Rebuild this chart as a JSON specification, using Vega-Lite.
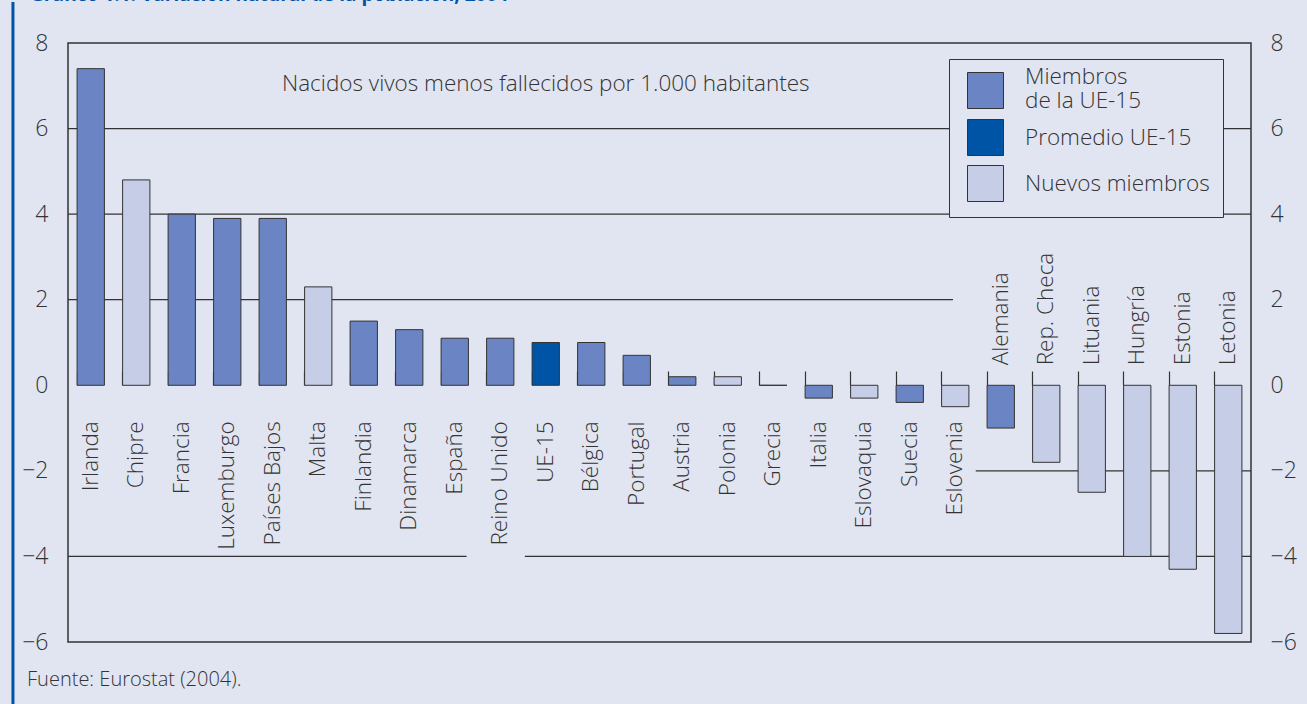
{
  "$schema": "https://vega.github.io/schema/vega-lite/v6.json",
  "width": 1183,
  "height": 599,
  "autosize": "none",
  "padding": {"left": 68, "top": 43, "right": 56, "bottom": 62},
  "background": "#e1e5f1",
  "config": {
    "view": {"stroke": "#333333", "strokeWidth": 1.5},
    "font": "Open Sans",
    "axis": {"labelFont": "Open Sans", "labelFontSize": 23, "labelColor": "#333333", "labelFontWeight": 300},
    "text": {"font": "Open Sans", "fontWeight": 300, "color": "#333333"}
  },
  "title": {
    "text": "Gráfico 1.1. Variación natural de la población, 2004",
    "anchor": "start",
    "frame": "group",
    "dx": -38,
    "offset": -4.5,
    "fontSize": 19,
    "fontWeight": "bold",
    "color": "#0054a6",
    "font": "Open Sans"
  },
  "datasets": {
    "paises": [
      {"pais": "Irlanda", "valor": 7.4, "grupo": "Miembros de la UE-15"},
      {"pais": "Chipre", "valor": 4.8, "grupo": "Nuevos miembros"},
      {"pais": "Francia", "valor": 4.0, "grupo": "Miembros de la UE-15"},
      {"pais": "Luxemburgo", "valor": 3.9, "grupo": "Miembros de la UE-15"},
      {"pais": "Países Bajos", "valor": 3.9, "grupo": "Miembros de la UE-15"},
      {"pais": "Malta", "valor": 2.3, "grupo": "Nuevos miembros"},
      {"pais": "Finlandia", "valor": 1.5, "grupo": "Miembros de la UE-15"},
      {"pais": "Dinamarca", "valor": 1.3, "grupo": "Miembros de la UE-15"},
      {"pais": "España", "valor": 1.1, "grupo": "Miembros de la UE-15"},
      {"pais": "Reino Unido", "valor": 1.1, "grupo": "Miembros de la UE-15"},
      {"pais": "UE-15", "valor": 1.0, "grupo": "Promedio UE-15"},
      {"pais": "Bélgica", "valor": 1.0, "grupo": "Miembros de la UE-15"},
      {"pais": "Portugal", "valor": 0.7, "grupo": "Miembros de la UE-15"},
      {"pais": "Austria", "valor": 0.2, "grupo": "Miembros de la UE-15"},
      {"pais": "Polonia", "valor": 0.2, "grupo": "Nuevos miembros"},
      {"pais": "Grecia", "valor": 0.0, "grupo": "Miembros de la UE-15"},
      {"pais": "Italia", "valor": -0.3, "grupo": "Miembros de la UE-15"},
      {"pais": "Eslovaquia", "valor": -0.3, "grupo": "Nuevos miembros"},
      {"pais": "Suecia", "valor": -0.4, "grupo": "Miembros de la UE-15"},
      {"pais": "Eslovenia", "valor": -0.5, "grupo": "Nuevos miembros"},
      {"pais": "Alemania", "valor": -1.0, "grupo": "Miembros de la UE-15"},
      {"pais": "Rep. Checa", "valor": -1.8, "grupo": "Nuevos miembros"},
      {"pais": "Lituania", "valor": -2.5, "grupo": "Nuevos miembros"},
      {"pais": "Hungría", "valor": -4.0, "grupo": "Nuevos miembros"},
      {"pais": "Estonia", "valor": -4.3, "grupo": "Nuevos miembros"},
      {"pais": "Letonia", "valor": -5.8, "grupo": "Nuevos miembros"}
    ],
    "rejilla": [
      {"y": 6, "desde": 0, "hasta": 26},
      {"y": 4, "desde": 0, "hasta": 26},
      {"y": 2, "desde": 0, "hasta": 19.45},
      {"y": -2, "desde": 19.95, "hasta": 26},
      {"y": -4, "desde": 0, "hasta": 8.76},
      {"y": -4, "desde": 10.04, "hasta": 26}
    ],
    "notas": [
      {"pais": "UE-15", "y": 7.05, "texto": "Nacidos vivos menos fallecidos por 1.000 habitantes"}
    ]
  },
  "layer": [
    {
      "data": {"name": "rejilla"},
      "mark": {"type": "rule", "color": "#333333", "strokeWidth": 1.2},
      "encoding": {
        "x": {"field": "desde", "type": "quantitative", "scale": {"domain": [0, 26], "nice": false, "zero": false}, "axis": null},
        "x2": {"field": "hasta"},
        "y": {
          "field": "y", "type": "quantitative",
          "scale": {"domain": [-6, 8], "nice": false},
          "axis": {"orient": "right", "values": [-6, -4, -2, 0, 2, 4, 6, 8], "ticks": false, "domain": false, "grid": false, "labelPadding": 19, "title": null}
        }
      }
    },
    {
      "data": {"values": [{"borde": "marco"}]},
      "mark": {"type": "rule", "color": "#0054a6", "strokeWidth": 3},
      "encoding": {
        "x": {"datum": -1.21, "type": "quantitative", "scale": {"domain": [0, 26], "nice": false, "zero": false}, "axis": null},
        "y": {"datum": 8.96, "type": "quantitative", "axis": null},
        "y2": {"datum": -7.7}
      }
    },
    {
      "data": {"values": [{"fuente": "Fuente: Eurostat (2004)."}]},
      "mark": {"type": "text", "align": "left", "baseline": "middle", "fontSize": 20},
      "encoding": {
        "x": {"datum": -0.9, "type": "quantitative", "scale": {"domain": [0, 26], "nice": false, "zero": false}, "axis": null},
        "y": {"datum": -6.88, "type": "quantitative", "axis": null},
        "text": {"field": "fuente"}
      }
    },
    {
      "layer": [
        {
          "data": {"name": "paises"},
          "mark": {"type": "bar", "stroke": "#333333", "strokeWidth": 1},
          "encoding": {
            "x": {
              "field": "pais", "type": "nominal", "sort": null,
              "scale": {"paddingInner": 0.4, "paddingOuter": 0.2},
              "axis": {"orient": "top", "offset": -342, "bandPosition": 0, "labels": false, "domain": false, "ticks": true, "tickSize": 14, "tickColor": "#333333", "tickWidth": 1.2, "title": null, "grid": false}
            },
            "y": {
              "field": "valor", "type": "quantitative",
              "axis": {"orient": "left", "values": [-6, -4, -2, 0, 2, 4, 6, 8], "ticks": false, "domain": false, "grid": false, "labelPadding": 20, "title": null}
            },
            "color": {
              "field": "grupo", "type": "nominal",
              "scale": {"domain": ["Miembros de la UE-15", "Promedio UE-15", "Nuevos miembros"], "range": ["#6b84c4", "#0054a6", "#c5cde7"]},
              "legend": {
                "orient": "none", "legendX": 881, "legendY": 16, "title": null,
                "symbolType": "square", "symbolSize": 1296, "symbolStrokeColor": "#333333", "symbolStrokeWidth": 1, "symbolOpacity": 1, "symbolOffset": 5,
                "labelFont": "Open Sans", "labelFontWeight": 300, "labelFontSize": 22.5, "labelColor": "#333333", "labelOffset": 21, "labelLimit": 400,
                "rowPadding": 5, "padding": 13, "fillColor": "#e1e5f1", "strokeColor": "#333333",
                "labelExpr": "datum.label == 'Miembros de la UE-15' ? ['Miembros', 'de la UE-15'] : datum.label",
                "encoding": {
                  "labels": {
                    "dy": {"condition": {"test": "datum.value == 'Miembros de la UE-15'", "value": -14}, "value": 0},
                    "lineHeight": {"value": 24}
                  }
                }
              }
            }
          }
        },
        {
          "mark": {"type": "rule", "color": "#333333", "strokeWidth": 2},
          "encoding": {"y": {"datum": 0, "type": "quantitative"}}
        },
        {
          "data": {"name": "paises"},
          "mark": {"type": "text", "angle": 270, "align": "right", "baseline": "middle", "dx": -36, "fontSize": 22.5},
          "encoding": {
            "x": {"field": "pais", "type": "nominal", "sort": null},
            "y": {"datum": 0, "type": "quantitative"},
            "text": {"condition": {"test": "datum.valor > -0.8", "field": "pais"}, "value": ""}
          }
        },
        {
          "data": {"name": "paises"},
          "mark": {"type": "text", "angle": 270, "align": "left", "baseline": "middle", "dx": 20, "fontSize": 22.5},
          "encoding": {
            "x": {"field": "pais", "type": "nominal", "sort": null},
            "y": {"datum": 0, "type": "quantitative"},
            "text": {"condition": {"test": "datum.valor <= -0.8", "field": "pais"}, "value": ""}
          }
        },
        {
          "data": {"name": "notas"},
          "mark": {"type": "text", "align": "center", "baseline": "middle", "fontSize": 22.5},
          "encoding": {
            "x": {"field": "pais", "type": "nominal", "sort": null},
            "y": {"field": "y", "type": "quantitative"},
            "text": {"field": "texto"}
          }
        }
      ]
    }
  ],
  "resolve": {"scale": {"x": "independent"}, "axis": {"x": "independent", "y": "independent"}}
}
